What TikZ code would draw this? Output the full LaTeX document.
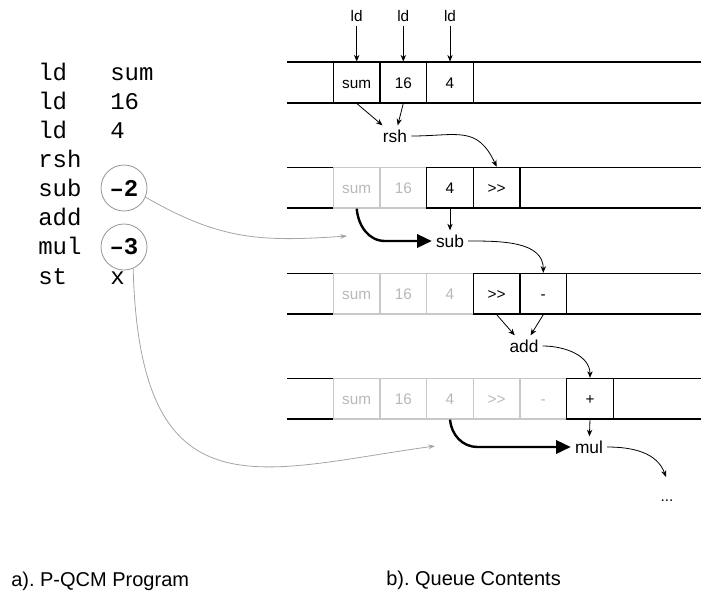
\documentclass[tikz,border=0pt]{standalone}
\usepackage{fontspec}
\setmainfont{Liberation Sans}
\setmonofont{Liberation Mono}
\usepackage{xcolor}
\usetikzlibrary{arrows.meta}

\definecolor{fadeline}{RGB}{200,200,200}
\definecolor{fadetext}{RGB}{185,185,185}
\definecolor{linkgray}{RGB}{165,165,165}
\definecolor{ringgray}{RGB}{150,150,150}

\frenchspacing

\begin{document}
\begin{tikzpicture}[x=0.75pt,y=0.75pt,
  cell/.style={draw, fill=white, line width=0.95pt, minimum width=35pt, minimum height=30.4pt,
    inner sep=0pt, text height=8.3pt, text depth=0pt, font=\fontsize{11.5}{13}\selectfont},
  oldcell/.style={cell, draw=fadeline, text=fadetext},
  oplabel/.style={font=\fontsize{13}{15}\selectfont, inner sep=3pt},
  ldlabel/.style={font=\fontsize{11.5}{13}\selectfont, inner sep=3pt},
  codetext/.style={font=\ttfamily\fontsize{18}{20}\selectfont, anchor=base west, inner sep=0pt},
  ring/.style={circle, draw=ringgray, line width=0.6pt, minimum size=34.5pt, inner sep=0pt,
    font=\ttfamily\bfseries\fontsize{18}{20}\selectfont},
  rowline/.style={line width=0.8pt},
  flow/.style={-{Stealth[length=5pt,width=4pt]}, line width=0.6pt},
  bigflow/.style={-{Triangle[length=11pt,width=10pt]}, line width=1.8pt},
  jump/.style={-{Stealth[length=5pt,width=3.5pt]}, draw=linkgray, line width=0.6pt}]
\useasboundingbox (0,0) rectangle (701,-594);

% Program listing
\node[codetext] (op1) at (38,-80)    {ld};
\node[codetext] (arg1) at (110,-80)  {sum};
\node[codetext] (op2) at (38,-109)   {ld};
\node[codetext] (arg2) at (110,-109) {16};
\node[codetext] (op3) at (38,-138.3) {ld};
\node[codetext] (arg3) at (110,-138.3) {4};
\node[codetext] (op4) at (38,-167.4) {rsh};
\node[codetext] (op5) at (38,-196.6) {sub};
\node[codetext] (op6) at (38,-225.7) {add};
\node[codetext] (op7) at (38,-254.9) {mul};
\node[codetext] (op8) at (38,-284)   {st};
\node[codetext] (arg8) at (110,-284) {x};

% Offsets
\node[ring] (offA) at (124,-188) {–2};
\node[ring] (offB) at (124,-247) {–3};

% Queue rows
\draw[rowline] (287,-62) -- (701,-62);
\draw[rowline] (287,-103) -- (701,-103);
\draw[rowline] (287,-167.5) -- (701,-167.5);
\draw[rowline] (287,-208) -- (701,-208);
\draw[rowline] (287,-273.5) -- (701,-273.5);
\draw[rowline] (287,-314) -- (701,-314);
\draw[rowline] (287,-378.5) -- (701,-378.5);
\draw[rowline] (287,-419) -- (701,-419);

% Row 1
\node[cell] (r1c1) at (356.7,-82.5) {sum};
\node[cell] (r1c2) at (403.3,-82.5) {16};
\node[cell] (r1c3) at (450,-82.5)   {4};

% Row 2
\node[oldcell] (r2c1) at (356.7,-187.75) {sum};
\node[oldcell] (r2c2) at (403.3,-187.75) {16};
\node[cell] (r2c3) at (450,-187.75)   {4};
\node[cell] (r2c4) at (496.7,-187.75) {>{}>};

% Row 3
\node[oldcell] (r3c1) at (356.7,-293.75) {sum};
\node[oldcell] (r3c2) at (403.3,-293.75) {16};
\node[oldcell] (r3c3) at (450,-293.75)   {4};
\node[cell] (r3c4) at (496.7,-293.75) {>{}>};
\node[cell] (r3c5) at (543.3,-293.75) {-};

% Row 4
\node[oldcell] (r4c1) at (356.7,-398.75) {sum};
\node[oldcell] (r4c2) at (403.3,-398.75) {16};
\node[oldcell] (r4c3) at (450,-398.75)   {4};
\node[oldcell] (r4c4) at (496.7,-398.75) {>{}>};
\node[oldcell] (r4c5) at (543.3,-398.75) {-};
\node[cell] (r4c6) at (590,-398.75)   {+};

% Operations
\node[ldlabel] (ldA) at (356.7,-16.5) {ld};
\node[ldlabel] (ldB) at (403.3,-16.5) {ld};
\node[ldlabel] (ldC) at (450,-16.5)   {ld};
\node[oplabel] (rsh) at (395,-136) {rsh};
\node[oplabel] (sub) at (450,-241) {sub};
\node[oplabel] (add) at (524,-346) {add};
\node[oplabel] (mul) at (589,-447) {mul};
\node[font=\fontsize{11.5}{13}\selectfont, anchor=base, inner sep=0pt] (dots) at (667,-501) {...};
\coordinate (next) at (666,-477);
\coordinate (subin) at (347,-236);
\coordinate (mulin) at (435,-446);

% Data flow
\draw[flow] (ldA) -- (r1c1);
\draw[flow] (ldB) -- (r1c2);
\draw[flow] (ldC) -- (r1c3);
\draw[flow] (r1c1.south) -- (rsh);
\draw[flow] (r1c2.south) -- (rsh);
\draw[flow] (rsh.east) to[out=0,in=115,looseness=1.3] (r2c4.north);
\draw[flow] (r2c3.south) -- (sub);
\draw[bigflow] (r2c1.south) to[out=-85,in=180] ([xshift=-35pt]sub.west) -- (sub.west);
\draw[flow] (sub.east) to[out=0,in=90] (r3c5.north);
\draw[flow] (r3c4.south) -- (add);
\draw[flow] (r3c5.south) -- (add);
\draw[flow] (add.east) to[out=0,in=90] (r4c6.north);
\draw[flow] (r4c6.south) -- (mul);
\draw[bigflow] (r4c3.south) to[out=-85,in=180] ([xshift=-70pt]mul.west) -- (mul.west);
\draw[flow] (mul.east) to[out=0,in=110] (next);

% Offset links
\draw[jump] (offA.-23) .. controls (220,-240) and (260,-242) .. (subin);
\draw[jump] (offB.-67) .. controls (140,-520) and (260,-470) .. (mulin);

% Captions
\node[font=\fontsize{15}{18}\selectfont, anchor=base west, inner sep=0pt] (capA) at (11,-586) {a). P-QCM Program};
\node[font=\fontsize{15}{18}\selectfont, anchor=base west, inner sep=0pt] (capB) at (386,-585) {b). Queue Contents};
\end{tikzpicture}
\end{document}
